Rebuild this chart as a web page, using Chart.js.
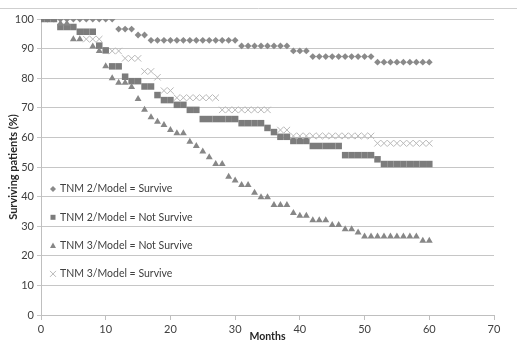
<!DOCTYPE html>
<html>
<head>
<meta charset="utf-8">
<script src="https://cdn.jsdelivr.net/npm/chart.js@4.4.1/dist/chart.umd.min.js"></script>
<style>
  html, body { margin: 0; padding: 0; background: #fff; }
  canvas { display: block; }
</style>
</head>
<body>
<canvas id="survival" width="517" height="342"></canvas>
<script>
// months of follow up, one point per month
var months = [0, 1, 2, 3, 4, 5, 6, 7, 8, 9,
    10, 11, 12, 13, 14, 15, 16, 17, 18, 19,
    20, 21, 22, 23, 24, 25, 26, 27, 28, 29,
    30, 31, 32, 33, 34, 35, 36, 37, 38, 39,
    40, 41, 42, 43, 44, 45, 46, 47, 48, 49,
    50, 51, 52, 53, 54, 55, 56, 57, 58, 59,
    60];

var xTicks = [0, 10, 20, 30, 40, 50, 60, 70];
var yTicks = [0, 10, 20, 30, 40, 50, 60, 70, 80, 90, 100];

var seriesNames = ['TNM 2/Model = Survive', 'TNM 2/Model = Not Survive',
    'TNM 3/Model = Not Survive', 'TNM 3/Model = Survive'];

// surviving patients (%), null = no marker
var tnm2Survive = [100, 100, 100, 100, 100, 100, 100, 100, 100, 100,
    100, 100, 96.6, 96.6, 96.6, 94.6, 94.6, 92.8, 92.8, 92.8,
    92.8, 92.8, 92.8, 92.8, 92.8, 92.8, 92.8, 92.8, 92.8, 92.8,
    92.8, 90.9, 90.9, 90.9, 90.9, 90.9, 90.9, 90.9, 90.9, 89.2,
    89.2, 89.2, 87.3, 87.3, 87.3, 87.3, 87.3, 87.3, 87.3, 87.3,
    87.3, 87.3, 85.4, 85.4, 85.4, 85.4, 85.4, 85.4, 85.4, 85.4,
    85.4];

var tnm2NotSurvive = [100, 100, 100, 97.3, 97.3, 97.3, 95.7, 95.7, 95.7, 91,
    89.4, 84, 84, 80.5, 79, 79, 77.2, 77.2, 74.3, 72.6,
    72.6, 71, 71, 69.3, 69.3, 66.2, 66.2, 66.2, 66.2, 66.2,
    66.2, 64.8, 64.8, 64.8, 64.8, 63.2, 61.8, 60.2, 60.2, 58.8,
    58.8, 58.8, 57.1, 57.1, 57.1, 57.1, 57.1, 54, 54, 54,
    54, 54, 52.6, 51, 51, 51, 51, 51, 51, 51,
    51];

var tnm3NotSurvive = [null, null, null, 98.5, 98.5, 93.2, 93.2, null, 90.7, 89.2,
    84, 80, 78.5, 78.5, 77, 73, 69.3, 66.8, 65.3, 64.2,
    62.5, 61.4, 61.4, 58.5, 57.1, 55.2, 53.3, 51, 51, 46.7,
    45.4, 43.9, 43.9, 41.3, 39.8, 39.8, 37.2, 37.2, 37.2, 34.5,
    33.5, 33.5, 32, 32, 32, 30.4, 30.4, 29, 29, 27.9,
    26.5, 26.5, 26.5, 26.5, 26.5, 26.5, 26.5, 26.5, 26.5, 25.1,
    25.1];

var tnm3Survive = [null, null, null, null, null, null, null, 93.2, 93.2, 93.2,
    null, 89.2, 89.2, 86.7, 86.7, 86.7, 82.3, 82.3, 80.3, 75.8,
    75.8, 73.4, 73.4, 73.4, 73.4, 73.4, 73.4, 73.4, 69.3, 69.3,
    69.3, 69.3, 69.3, 69.3, 69.3, 69.3, null, 62.5, 62.5, 60.5,
    60.5, 60.5, 60.5, 60.5, 60.5, 60.5, 60.5, 60.5, 60.5, 60.5,
    60.5, 60.5, 58, 58, 58, 58, 58, 58, 58, 58,
    58];

function toPoints(values) {
    var pts = [];
    for (var i = 0; i < months.length; i++) {
        if (values[i] !== null) pts.push({ x: months[i], y: values[i] });
    }
    return pts;
}

var FONT = 'Lato, "Open Sans", sans-serif';

// marker shapes for the legend drawn inside the plot
function drawMarker(ctx, style, x, y, color) {
    ctx.beginPath();
    if (style == 'rectRot') {
        ctx.moveTo(x, y - 3); ctx.lineTo(x + 3, y); ctx.lineTo(x, y + 3); ctx.lineTo(x - 3, y);
        ctx.closePath(); ctx.fillStyle = color; ctx.fill();
    } else if (style == 'rect') {
        ctx.fillStyle = color; ctx.fillRect(x - 2.5, y - 2.5, 5, 5);
    } else if (style == 'triangle') {
        ctx.moveTo(x, y - 3); ctx.lineTo(x + 3, y + 2.5); ctx.lineTo(x - 3, y + 2.5);
        ctx.closePath(); ctx.fillStyle = color; ctx.fill();
    } else {
        ctx.moveTo(x - 3, y - 3); ctx.lineTo(x + 3, y + 3);
        ctx.moveTo(x + 3, y - 3); ctx.lineTo(x - 3, y + 3);
        ctx.strokeStyle = color; ctx.lineWidth = 1; ctx.stroke();
    }
}

var insideLegend = {
    id: 'insideLegend',
    beforeDraw: function (chart) {
        var ctx = chart.ctx;
        ctx.save();
        ctx.fillStyle = '#fff';
        ctx.fillRect(0, 0, chart.width, chart.height);
        // outer frame line of the original figure
        ctx.strokeStyle = '#cfcfcf';
        ctx.lineWidth = 1;
        ctx.beginPath();
        ctx.moveTo(0, 8.5);
        ctx.lineTo(chart.width, 8.5);
        ctx.stroke();
        ctx.restore();
    },
    afterDraw: function (chart) {
        var ctx = chart.ctx;
        ctx.save();
        ctx.font = '10.5px ' + FONT;
        ctx.textBaseline = 'middle';
        ctx.textAlign = 'left';
        chart.data.datasets.forEach(function (ds, i) {
            var y = 189 + i * 28.3;
            drawMarker(ctx, ds.pointStyle, 53, y, ds.legendColor);
            ctx.fillStyle = '#404040';
            ctx.fillText(ds.label, 60, y);
        });
        ctx.restore();
    }
};

var datasets = [
    { label: seriesNames[0], data: toPoints(tnm2Survive), pointStyle: 'rectRot', pointRadius: 3.4,
      backgroundColor: '#8a8a8a', borderColor: '#8a8a8a', borderWidth: 0, legendColor: '#8a8a8a', order: 4 },
    { label: seriesNames[1], data: toPoints(tnm2NotSurvive), pointStyle: 'rect', pointRadius: 4.6,
      backgroundColor: '#7c7c7c', borderColor: '#7c7c7c', borderWidth: 0, legendColor: '#7c7c7c', order: 3 },
    { label: seriesNames[2], data: toPoints(tnm3NotSurvive), pointStyle: 'triangle', pointRadius: 4,
      backgroundColor: '#878787', borderColor: '#878787', borderWidth: 0, legendColor: '#878787', order: 2 },
    { label: seriesNames[3], data: toPoints(tnm3Survive), pointStyle: 'crossRot', pointRadius: 4.5,
      backgroundColor: '#b9b9b9', borderColor: '#b9b9b9', borderWidth: 1, legendColor: '#b9b9b9', order: 1 }
];

new Chart(document.getElementById('survival'), {
    type: 'scatter',
    data: { datasets: datasets },
    options: {
        responsive: false,
        animation: false,
        layout: { padding: { top: 19, right: 23, left: 0, bottom: 0 } },
        plugins: { legend: { display: false }, tooltip: { enabled: false } },
        scales: {
            x: {
                type: 'linear', min: 0, max: 70,
                afterBuildTicks: function (s) { s.ticks = xTicks.map(function (v) { return { value: v }; }); },
                afterFit: function (s) { s.height = 27; },
                grid: { drawOnChartArea: false, drawTicks: true, tickLength: 5, color: '#bfbfbf' },
                border: { color: '#bfbfbf' },
                ticks: { padding: 3, color: '#404040', font: { family: FONT, size: 11 }, maxRotation: 0 },
                title: { display: true, text: 'Months', color: '#262626',
                    font: { family: FONT, size: 10.5, weight: 'bold', lineHeight: 1 }, padding: { top: 0, bottom: 0 } }
            },
            y: {
                min: 0, max: 100,
                afterBuildTicks: function (s) { s.ticks = yTicks.map(function (v) { return { value: v }; }); },
                afterFit: function (s) { s.width = 41; },
                grid: { color: '#c6c6c6', tickLength: 4 },
                border: { color: '#bfbfbf' },
                ticks: { padding: 3, color: '#404040', font: { family: FONT, size: 11 } },
                title: { display: true, text: 'Surviving patients (%)', color: '#262626',
                    font: { family: FONT, size: 11, weight: 'bold', lineHeight: 1 }, padding: { top: 8, bottom: 0 } }
            }
        }
    },
    plugins: [insideLegend]
});
</script>
</body>
</html>
